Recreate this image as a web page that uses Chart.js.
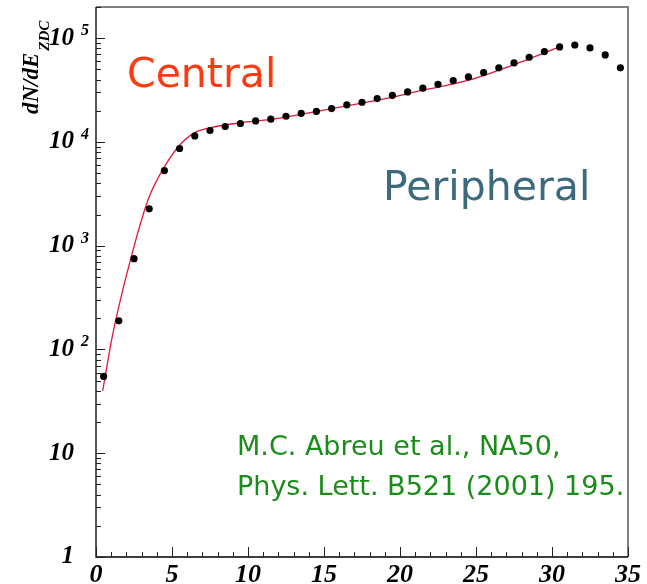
<!DOCTYPE html>
<html>
<head>
<meta charset="utf-8">
<script src="https://cdn.jsdelivr.net/npm/chart.js@4/dist/chart.umd.min.js"></script>
<style>
  html, body { margin: 0; padding: 0; background: #fff; }
  canvas { display: block; }
</style>
</head>
<body>
<canvas id="zdcChart" width="647" height="584"></canvas>
<script>
// measured points, one per 1-unit bin of E_ZDC
const binCenters = [0.5, 1.5, 2.5, 3.5, 4.5, 5.5, 6.5, 7.5, 8.5, 9.5,
  10.5, 11.5, 12.5, 13.5, 14.5, 15.5, 16.5, 17.5, 18.5, 19.5,
  20.5, 21.5, 22.5, 23.5, 24.5, 25.5, 26.5, 27.5, 28.5, 29.5,
  30.5, 31.5, 32.5, 33.5, 34.5];
const counts = [55, 189, 750, 2270, 5300, 8650, 11450, 12900, 14100, 15070,
  15970, 16600, 17700, 18900, 19700, 21000, 22800, 24150, 26200, 28150,
  30400, 33000, 36000, 39100, 42400, 46700, 51800, 57800, 65600, 74400,
  82500, 86100, 80700, 69000, 51800];

// fit curve
const fitX = [0.44, 1.1, 2.5, 3.5, 4.5, 5.5, 6.5, 7.5, 9.5, 11.5, 15.5, 18.7, 21.5, 24.5, 27.5, 30.5];
const fitY = [40, 140, 980, 2960, 5760, 9300, 12300, 13700, 15300, 16500, 21000, 25600, 31550, 39400, 55700, 82500];

// axis ticks
const xTickLabels = [0, 5, 10, 15, 20, 25, 30, 35];
const yTickValues = [1, 10, 100, 1000, 10000, 100000];
const yTickBase = ['1', '10', '10', '10', '10', '10'];
const yTickExp = ['', '', '2', '3', '4', '5'];

const tickFont = 'bold italic 25px "Liberation Serif"';
const xTickFont = 'bold italic 26px "Liberation Serif"';
const expFont = 'bold italic 16px "Liberation Serif"';

const rootFrame = {
  id: 'rootFrame',
  afterDatasetsDraw(chart) {
    const { ctx, chartArea: a, scales: { x, y } } = chart;
    ctx.save();

    // frame: top/right grey, left/bottom black
    ctx.strokeStyle = '#808080';
    ctx.lineWidth = 2;
    ctx.beginPath();
    ctx.moveTo(a.left, a.top);
    ctx.lineTo(a.right, a.top);
    ctx.lineTo(a.right, a.bottom);
    ctx.stroke();
    ctx.strokeStyle = '#000';
    ctx.lineWidth = 1.3;
    ctx.beginPath();
    ctx.moveTo(a.left, a.top);
    ctx.lineTo(a.left, a.bottom);
    ctx.lineTo(a.right, a.bottom);
    ctx.stroke();

    // y ticks (major + minor), pointing inward
    ctx.strokeStyle = '#222';
    ctx.lineWidth = 1;
    ctx.beginPath();
    yTickValues.forEach(dec => {
      for (let m = 1; m <= 9; m++) {
        const v = dec * m;
        if (v > y.max) break;
        const py = Math.round(y.getPixelForValue(v)) + 0.5;
        ctx.moveTo(a.left, py);
        ctx.lineTo(a.left + (m === 1 ? 9 : 5), py);
      }
    });
    // x ticks
    for (let v = x.min; v <= x.max; v++) {
      const px = Math.round(x.getPixelForValue(v)) + 0.5;
      ctx.moveTo(px, a.bottom);
      ctx.lineTo(px, a.bottom - (v % 5 === 0 ? 10 : 5));
    }
    ctx.stroke();

    // y labels with superscript exponent
    ctx.fillStyle = '#000';
    yTickValues.forEach((v, i) => {
      const py = y.getPixelForValue(v);
      ctx.font = tickFont;
      ctx.textAlign = 'right';
      ctx.textBaseline = 'middle';
      ctx.fillText(yTickBase[i], 74, py);
      if (yTickExp[i]) {
        ctx.font = expFont;
        ctx.textAlign = 'left';
        ctx.textBaseline = 'alphabetic';
        ctx.fillText(yTickExp[i], 81, py - 3);
      }
    });

    // x labels
    ctx.font = xTickFont;
    ctx.textAlign = 'center';
    ctx.textBaseline = 'alphabetic';
    xTickLabels.forEach(v => {
      ctx.fillText(String(v), x.getPixelForValue(v), 582);
    });

    // y title dN/dE_ZDC
    ctx.translate(38, 114);
    ctx.rotate(-Math.PI / 2);
    ctx.font = 'bold italic 23px "Liberation Serif"';
    ctx.textAlign = 'left';
    ctx.fillText('dN/dE', 0, 0);
    const w = ctx.measureText('dN/dE').width;
    ctx.font = 'bold italic 15px "Liberation Serif"';
    ctx.fillText('ZDC', w + 2, 11);
    ctx.restore();

    // annotations
    ctx.save();
    ctx.textAlign = 'left';
    ctx.textBaseline = 'alphabetic';
    ctx.font = '41px "DejaVu Sans"';
    ctx.fillStyle = '#ff3a10';
    ctx.fillText('Central', 127, 87);
    ctx.fillStyle = '#3a6a7c';
    ctx.fillText('Peripheral', 383, 200);
    ctx.font = '27px "DejaVu Sans"';
    ctx.fillStyle = '#1a8c1a';
    ctx.fillText('M.C. Abreu et al., NA50,', 237, 455);
    ctx.fillText('Phys. Lett. B521 (2001) 195.', 237, 495);
    ctx.restore();
  }
};

new Chart(document.getElementById('zdcChart'), {
  type: 'scatter',
  data: {
    datasets: [
      {
        label: 'fit',
        data: fitX.map((v, i) => ({ x: v, y: fitY[i] })),
        showLine: true,
        pointRadius: 0,
        borderColor: '#e3163f',
        borderWidth: 1.3,
        cubicInterpolationMode: 'monotone',
        order: 2
      },
      {
        label: 'data',
        data: binCenters.map((v, i) => ({ x: v, y: counts[i] })),
        pointRadius: 3.6,
        pointBackgroundColor: '#000',
        pointBorderWidth: 0,
        order: 1
      }
    ]
  },
  options: {
    responsive: false,
    animation: false,
    layout: { padding: { left: 96, right: 19, top: 7, bottom: 27 } },
    plugins: { legend: { display: false }, tooltip: { enabled: false } },
    scales: {
      x: { type: 'linear', min: 0, max: 35, display: false },
      y: { type: 'logarithmic', min: 1, max: 200000, display: false }
    }
  },
  plugins: [rootFrame]
});
</script>
</body>
</html>
